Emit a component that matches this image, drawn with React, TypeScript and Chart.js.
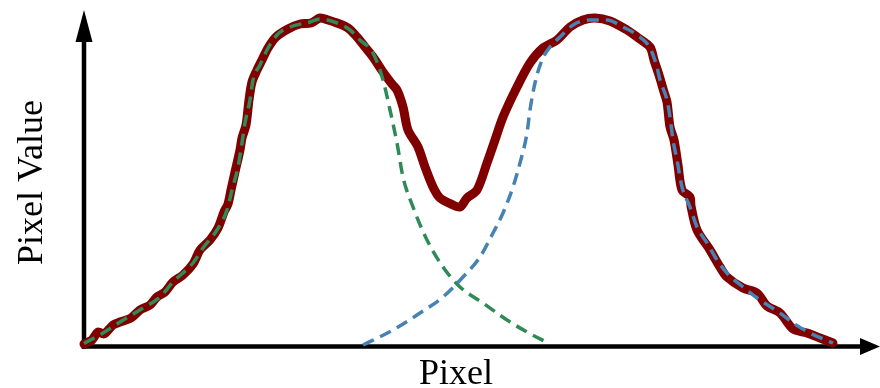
import React, { useEffect, useRef } from "react";
import { Chart, registerables } from "chart.js";

Chart.register(...registerables);

// Measured intensity profile across two neighbouring peaks (pixel index, value)
const profileX = [
  0, 8, 14, 20, 29, 36, 47, 56, 66, 73, 81, 89, 99, 109, 116, 126, 134, 140, 144, 147,
  151, 156, 158, 162, 165, 168, 173, 178, 184, 192, 204, 216, 227, 236, 244, 253, 264,
  273, 281, 289, 299, 308, 313, 319, 324, 334, 341, 349, 356, 369, 376, 383, 393, 403,
  411, 419, 433, 446, 459, 473, 486, 499, 511, 526, 543, 553, 566, 570, 575, 580, 583,
  586, 590, 594, 598, 606, 607, 613, 626, 636, 643, 659, 673, 683, 696, 709, 723, 736, 749,
];
const profileY = [
  2.5, 6.5, 14.5, 12.5, 21.5, 24.5, 28.5, 36.5, 41.5, 49.5, 54.5, 64.5, 71.5, 82.5, 96.5,
  106.5, 118.5, 134.5, 142.5, 156.5, 174.5, 196.5, 208.5, 221.5, 246.5, 264.5, 276.5,
  286.5, 298.5, 309.5, 317.5, 322.5, 323.5, 328.5, 326.5, 323.5, 318.5, 309.5, 299.5,
  289.5, 274.5, 262.5, 256.5, 239.5, 216.5, 199.5, 179.5, 159.5, 148.5, 141.5, 139.5,
  148.5, 156.5, 183.5, 206.5, 229.5, 259.5, 283.5, 298.5, 306.5, 319.5, 326.5, 328.5,
  325.5, 316.5, 309.5, 299.5, 286.5, 271.5, 254.5, 244.5, 219.5, 206.5, 181.5, 156.5,
  149.5, 140.5, 116.5, 96.5, 79.5, 69.5, 58.5, 53.5, 40.5, 33.5, 17.5, 13.5, 8.5, 3.5,
];

// Fitted component for the left peak
const leftFitX = [
  0, 19, 36, 59, 76, 89, 109, 119, 133, 143, 148, 154, 158, 161, 166, 169, 176, 183, 193,
  206, 226, 236, 253, 266, 276, 289, 299, 306, 313, 319, 329, 343, 359, 376, 399, 423, 443, 464,
];
const leftFitY = [
  3, 13.5, 24.5, 38.5, 49.5, 64.5, 83.5, 98.5, 116.5, 136.5, 156.5, 179.5, 203.5, 223.5,
  246.5, 266.5, 281.5, 296.5, 311.5, 319.5, 324.5, 327.5, 323.5, 316.5, 306.5, 293.5,
  266.5, 236.5, 203.5, 169.5, 139.5, 106.5, 79.5, 59.5, 43.5, 26.5, 14.5, 3.5,
];

// Fitted component for the right peak
const rightFitX = [
  279, 309, 336, 359, 379, 396, 409, 419, 429, 436, 443, 446, 451, 458, 466, 476, 489, 506,
  523, 539, 553, 566, 573, 576, 583, 586, 589, 593, 598, 606, 613, 623, 633, 643, 659, 676,
  696, 709, 726, 749,
];
const rightFitY = [
  1.5, 16.5, 33.5, 49.5, 69.5, 89.5, 113.5, 133.5, 159.5, 183.5, 213.5, 236.5, 263.5,
  286.5, 299.5, 309.5, 321.5, 326.5, 326.5, 319.5, 311.5, 298.5, 279.5, 266.5, 246.5,
  229.5, 206.5, 186.5, 159.5, 139.5, 119.5, 103.5, 86.5, 73.5, 59.5, 46.5, 33.5, 23.5,
  13.5, 3.5,
];

const X_MAX = 796;
const Y_MAX = 336.5;

const toPoints = (xs: number[], ys: number[]) => xs.map((x, i) => ({ x, y: ys[i] }));

// Draws arrowed axes and the axis titles
const arrowAxes = {
  id: "arrowAxes",
  beforeDatasetsDraw(chart: any) {
    const { ctx, chartArea } = chart;
    const { left, right, top, bottom } = chartArea;
    const lw = 4.5;
    ctx.save();
    ctx.strokeStyle = "#000";
    ctx.fillStyle = "#000";
    ctx.lineWidth = lw;
    ctx.lineCap = "butt";
    // y axis
    ctx.beginPath();
    ctx.moveTo(left, bottom + lw / 2);
    ctx.lineTo(left, top + 30);
    ctx.stroke();
    ctx.beginPath();
    ctx.moveTo(left, top);
    ctx.lineTo(left - 8.5, top + 32);
    ctx.lineTo(left + 8.5, top + 32);
    ctx.closePath();
    ctx.fill();
    // x axis
    ctx.beginPath();
    ctx.moveTo(left - lw / 2, bottom);
    ctx.lineTo(right - 18, bottom);
    ctx.stroke();
    ctx.beginPath();
    ctx.moveTo(right, bottom);
    ctx.lineTo(right - 20, bottom - 8.5);
    ctx.lineTo(right - 20, bottom + 8.5);
    ctx.closePath();
    ctx.fill();
    // titles
    ctx.font = '36px "Liberation Serif", "Times New Roman", serif';
    ctx.textAlign = "center";
    ctx.textBaseline = "alphabetic";
    ctx.fillText("Pixel", 456, bottom + 37.5);
    ctx.translate(41.5, 182.5);
    ctx.rotate(-Math.PI / 2);
    ctx.fillText("Pixel Value", 0, 0);
    ctx.restore();
  },
};

export default function App() {
  const canvasRef = useRef<HTMLCanvasElement | null>(null);

  useEffect(() => {
    if (!canvasRef.current) return;
    const chart = new Chart(canvasRef.current, {
      type: "line",
      data: {
        datasets: [
          {
            label: "Right fit",
            data: toPoints(rightFitX, rightFitY),
            borderColor: "#4682b4",
            borderWidth: 3.5,
            borderDash: [12, 7],
            pointRadius: 0,
            cubicInterpolationMode: "monotone",
            fill: false,
            clip: false as any,
            order: 0,
          },
          {
            label: "Left fit",
            data: toPoints(leftFitX, leftFitY),
            borderColor: "#2e8b57",
            borderWidth: 3.5,
            borderDash: [12, 7],
            pointRadius: 0,
            cubicInterpolationMode: "monotone",
            fill: false,
            clip: false as any,
            order: 1,
          },
          {
            label: "Profile",
            data: toPoints(profileX, profileY),
            borderColor: "#800000",
            borderWidth: 9,
            borderJoinStyle: "round",
            borderCapStyle: "round",
            pointRadius: 0,
            tension: 0.3,
            fill: false,
            clip: false as any,
            order: 2,
          },
        ],
      },
      options: {
        animation: false,
        responsive: false,
        devicePixelRatio: 1,
        layout: { padding: { left: 84, right: 0, top: 10, bottom: 41.5 } },
        plugins: { legend: { display: false }, tooltip: { enabled: false } },
        events: [],
        scales: {
          x: { type: "linear", min: 0, max: X_MAX, display: false },
          y: { type: "linear", min: 0, max: Y_MAX, display: false },
        },
      },
      plugins: [arrowAxes],
    });
    return () => chart.destroy();
  }, []);

  return (
    <div style={{ position: "fixed", left: 0, top: 0, width: 880, height: 388, background: "#fff" }}>
      <canvas ref={canvasRef} width={880} height={388} />
    </div>
  );
}
